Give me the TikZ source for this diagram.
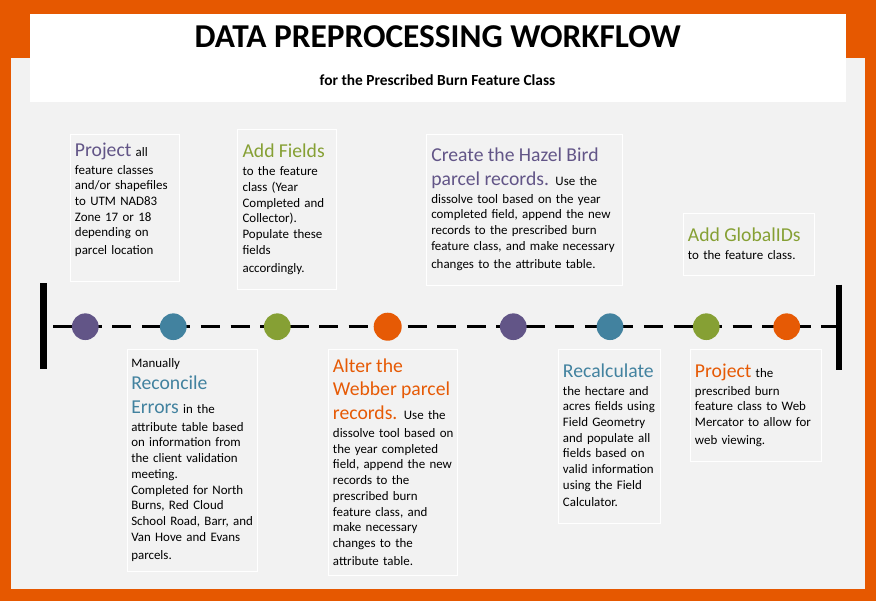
\documentclass[tikz,border=0pt]{standalone}
\usepackage{fontspec}
\setmainfont{Carlito}

\definecolor{frameorange}{HTML}{E65800}
\definecolor{panelgray}{HTML}{F2F2F2}
\definecolor{stpurple}{HTML}{625587}
\definecolor{stteal}{HTML}{42829F}
\definecolor{stgreen}{HTML}{86A034}
\definecolor{storange}{HTML}{E65A05}

% line spacing is driven entirely by struts; glyphs are smashed
\newcommand\bodystrut{\rule[-3.4pt]{0pt}{11.8pt}}
\newcommand\headstrut{\rule[-5.1pt]{0pt}{17.8pt}}
\newcommand\headfont{\fontsize{14.75pt}{0pt}\selectfont}
\newcommand\txtline[1]{\bodystrut\smash{#1}}
\newcommand\hdline[1]{\headstrut\smash{#1}}
\newcommand\hd[2]{{\headfont\color{#1}#2}}
\newcommand\strutspacing{\baselineskip=0pt\relax\lineskip=0pt\relax\lineskiplimit=0pt\relax}

\begin{document}
\begin{tikzpicture}[x=0.75pt,y=-0.75pt,
  panel/.style={draw=white, line width=0.9pt, inner sep=0pt, anchor=north west},
  steptext/.style={anchor=north west, inner sep=0pt, align=left, text width=200pt,
    font=\fontsize{9.7pt}{0pt}\selectfont, execute at begin node=\strutspacing},
  dot/.style={circle, inner sep=0pt, minimum size=20pt},
  endbar/.style={line width=5pt},
  timeline/.style={line width=1.9pt, dash pattern=on 14.25pt off 7.9pt, dash phase=14.8pt}]

\useasboundingbox (0,0) rectangle (876,601);

% frame, panel and heading card
\fill[frameorange] (0,0) rectangle (876,601);
\fill[panelgray] (11,58) rectangle (865,589);
\fill[white] (30,14) rectangle (846,102);

\node[font=\fontsize{25pt}{28pt}\selectfont\bfseries, anchor=base] (title) at (437.7,47.7)
  {DATA PREPROCESSING WORKFLOW};
\node[font=\fontsize{11.55pt}{13pt}\selectfont\bfseries, anchor=base] (subtitle) at (437.5,85.7)
  {for the Prescribed Burn Feature Class};

% timeline
\coordinate (lbar) at (43.5,326.7);
\coordinate (lbartop) at (43.5,283);
\coordinate (lbarbot) at (43.5,369);
\coordinate (rbar) at (839,326.7);
\coordinate (rbartop) at (839,284.5);
\coordinate (rbarbot) at (839,370);

\draw[timeline] (lbar) -- (rbar);
\draw[endbar] (lbartop) -- (lbarbot);
\draw[endbar] (rbartop) -- (rbarbot);

\node[dot, fill=stpurple] (c1) at (85.3,326.7) {};
\node[dot, fill=stteal]   (c2) at (173.3,326.7) {};
\node[dot, fill=stgreen]  (c3) at (277.3,326.7) {};
\node[dot, fill=storange, minimum size=21pt] (c4) at (387.7,326.7) {};
\node[dot, fill=stpurple] (c5) at (513.3,326.7) {};
\node[dot, fill=stteal]   (c6) at (610,326.7) {};
\node[dot, fill=stgreen]  (c7) at (706.3,326.7) {};
\node[dot, fill=storange] (c8) at (786.7,326.7) {};

% step boxes
\node[panel, minimum width={108.5*0.75pt}, minimum height={147*0.75pt}] (b1) at (70,134) {};
\node[panel, minimum width={98.5*0.75pt},  minimum height={160*0.75pt}] (b2) at (237,129) {};
\node[panel, minimum width={196*0.75pt},   minimum height={151*0.75pt}] (b3) at (426,134) {};
\node[panel, minimum width={131*0.75pt},   minimum height={62*0.75pt}]  (b4) at (683,213) {};
\node[panel, minimum width={130.5*0.75pt}, minimum height={221.7*0.75pt}] (b5) at (126.5,349) {};
\node[panel, minimum width={129*0.75pt},   minimum height={226*0.75pt}] (b6) at (328,349) {};
\node[panel, minimum width={102*0.75pt},   minimum height={174*0.75pt}] (b7) at (558,349) {};
\node[panel, minimum width={130.5*0.75pt}, minimum height={112*0.75pt}] (b8) at (690,349) {};

% step texts
\node[steptext] (t1) at (74.7,138.8) {%
  \hdline{\hd{stpurple}{Project} all}\\
  \txtline{feature classes}\\
  \txtline{and/or shapefiles}\\
  \txtline{to UTM NAD83}\\
  \txtline{Zone 17 or 18}\\
  \txtline{depending on}\\[1.7pt]
  \txtline{parcel location}};

\node[steptext] (t2) at (242.3,140.4) {%
  \hdline{\hd{stgreen}{Add Fields}}\\
  \txtline{to the feature}\\
  \txtline{class (Year}\\
  \txtline{Completed and}\\
  \txtline{Collector).}\\
  \txtline{Populate these}\\
  \txtline{fields}\\[1.7pt]
  \txtline{accordingly.}};

\node[steptext] (t3) at (431,144.1) {%
  \hdline{\hd{stpurple}{Create the Hazel Bird}}\\
  \hdline{\hd{stpurple}{parcel records.} Use the}\\
  \txtline{dissolve tool based on the year}\\
  \txtline{completed field, append the new}\\
  \txtline{records to the prescribed burn}\\
  \txtline{feature class, and make necessary}\\[1.7pt]
  \txtline{changes to the attribute table.}};

\node[steptext] (t4) at (687.7,223.8) {%
  \hdline{\hd{stgreen}{Add GlobalIDs}}\\
  \txtline{to the feature class.}};

\node[steptext] (t5) at (131,356.5) {%
  \txtline{Manually}\\
  \hdline{\hd{stteal}{Reconcile}}\\
  \hdline{\hd{stteal}{Errors} in the}\\
  \txtline{attribute table based}\\
  \txtline{on information from}\\
  \txtline{the client validation}\\
  \txtline{meeting.}\\
  \txtline{Completed for North}\\
  \txtline{Burns, Red Cloud}\\
  \txtline{School Road, Barr, and}\\
  \txtline{Van Hove and Evans}\\[1.7pt]
  \txtline{parcels.}};

\node[steptext] (t6) at (332.7,354.8) {%
  \hdline{\hd{storange}{Alter the}}\\
  \hdline{\hd{storange}{Webber parcel}}\\
  \hdline{\hd{storange}{records.} Use the}\\
  \txtline{dissolve tool based on}\\
  \txtline{the year completed}\\
  \txtline{field, append the new}\\
  \txtline{records to the}\\
  \txtline{prescribed burn}\\
  \txtline{feature class, and}\\
  \txtline{make necessary}\\
  \txtline{changes to the}\\[1.7pt]
  \txtline{attribute table.}};

\node[steptext] (t7) at (562.7,359.8) {%
  \hdline{\hd{stteal}{Recalculate}}\\
  \txtline{the hectare and}\\
  \txtline{acres fields using}\\
  \txtline{Field Geometry}\\
  \txtline{and populate all}\\
  \txtline{fields based on}\\
  \txtline{valid information}\\
  \txtline{using the Field}\\[1.2pt]
  \txtline{Calculator.}};

\node[steptext] (t8) at (694.7,359.8) {%
  \hdline{\hd{storange}{Project} the}\\
  \txtline{prescribed burn}\\
  \txtline{feature class to Web}\\
  \txtline{Mercator to allow for}\\[1.7pt]
  \txtline{web viewing.}};
\end{tikzpicture}
\end{document}
